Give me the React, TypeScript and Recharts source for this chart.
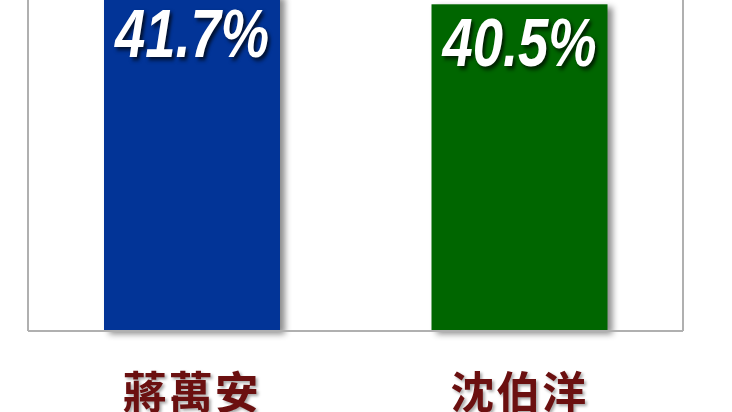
import { BarChart, Bar, XAxis, YAxis, Cell, LabelList } from 'recharts'

const candidates = ['蔣萬安', '沈伯洋']
const shares = [41.7, 40.5]
const barColors = ['#023497', '#006600']

const data = candidates.map((name, i) => ({ name, share: shares[i] }))

const ShadowBar = (props: any) => {
	const { x, y, width, height, fill } = props
	return (
		<rect
			x={x}
			y={y}
			width={width}
			height={height}
			fill={fill}
			style={{ filter: 'drop-shadow(5px 3px 3px rgba(0,0,0,0.45))' }}
		/>
	)
}

const ValueLabel = (props: any) => {
	const { x, y, width, value } = props
	return (
		<g transform={`translate(${x + width / 2}, ${y + 62}) scale(0.8, 1)`}>
			<text
				x={0}
				y={0}
				textAnchor="middle"
				fill="#ffffff"
				fontSize={68}
				fontWeight="bold"
				fontStyle="italic"
				fontFamily="'Liberation Sans', Arial, sans-serif"
				style={{ filter: 'drop-shadow(3px 3px 2px rgba(0,0,0,0.7))' }}
			>
				{`${value}%`}
			</text>
		</g>
	)
}

const NameTick = (props: any) => {
	const { x, y, payload } = props
	return (
		<text
			x={x}
			y={y + 70}
			textAnchor="middle"
			fill="#6b1010"
			fontSize={44}
			fontWeight="bold"
			letterSpacing={2}
			fontFamily="'Noto Sans CJK TC', 'Noto Sans CJK SC', sans-serif"
			style={{ filter: 'drop-shadow(2px 2px 1.5px rgba(0,0,0,0.35))' }}
		>
			{payload.value}
		</text>
	)
}

export default function App() {
	return (
		<div style={{ position: 'absolute', left: 0, top: -40 }}>
			<BarChart
				width={732}
				height={452}
				data={data}
				margin={{ top: 8, right: 0, left: 0, bottom: 0 }}
			>
				<XAxis
					dataKey="name"
					height={81}
					tickLine={false}
					axisLine={{ stroke: '#b0b0b0', strokeWidth: 2 }}
					tick={<NameTick />}
					interval={0}
				/>
				<YAxis
					width={28}
					domain={[0, 45]}
					tick={false}
					tickLine={false}
					axisLine={{ stroke: '#b0b0b0', strokeWidth: 2 }}
				/>
				<YAxis
					yAxisId="right"
					orientation="right"
					width={49}
					tick={false}
					tickLine={false}
					axisLine={{ stroke: '#b0b0b0', strokeWidth: 2 }}
				/>
				<Bar dataKey="share" barSize={176} shape={<ShadowBar />} isAnimationActive={false}>
					{data.map((entry, index) => (
						<Cell key={`cell-${index}`} fill={barColors[index % barColors.length]} />
					))}
					<LabelList dataKey="share" content={<ValueLabel />} />
				</Bar>
			</BarChart>
		</div>
	)
}
